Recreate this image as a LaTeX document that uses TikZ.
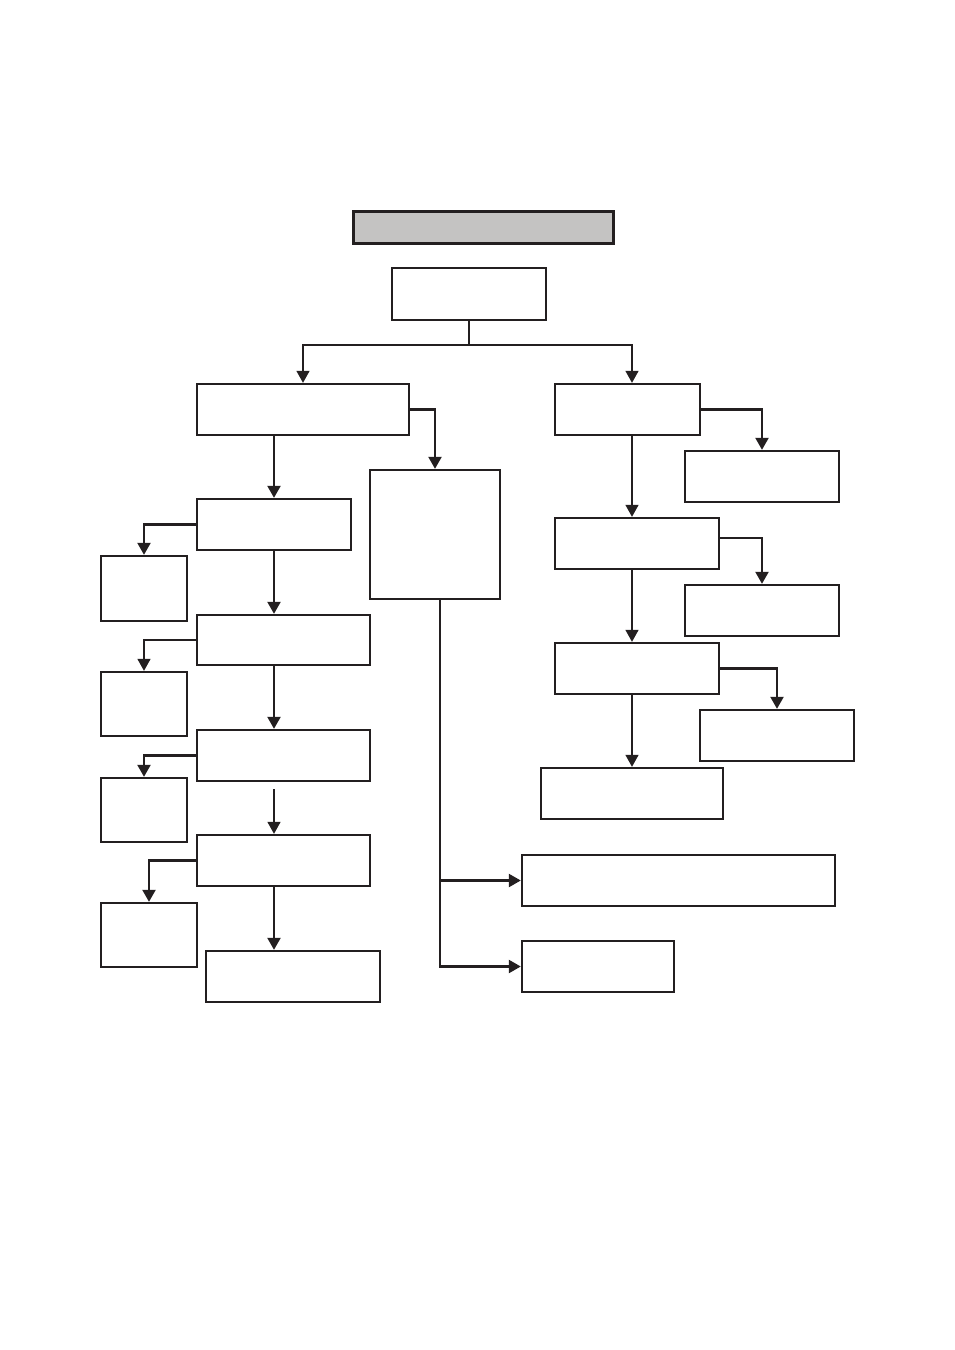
\documentclass[tikz,border=0pt]{standalone}
\usetikzlibrary{arrows.meta}
\definecolor{ink}{HTML}{231F20}
\definecolor{titlegray}{HTML}{C4C3C2}
\begin{document}
\begin{tikzpicture}[x=1pt,y=-1pt,
  box/.style={draw=ink,line width=2.4pt,inner sep=0pt,rectangle},
  conn/.style={draw=ink,line width=2.3pt},
  thin/.style={draw=ink,line width=1.5pt},
  arr/.style={-{Triangle[length=12pt,width=13pt]}}]
\useasboundingbox (0,0) rectangle (954,1350);
\fill[white] (0,0) rectangle (954,1350);
\node[box,fill=titlegray,line width=3pt,minimum width=260pt,minimum height=32pt] (title) at (483,227) {};
\node[box,minimum width=154pt,minimum height=52pt] (top) at (469,294) {};
\node[box,minimum width=212pt,minimum height=51pt] (L1) at (303,409.5) {};
\node[box,minimum width=145pt,minimum height=51pt] (R1) at (627.5,409.5) {};
\node[box,minimum width=130pt,minimum height=129pt] (Mid) at (435,534.5) {};
\node[box,minimum width=154pt,minimum height=51pt] (L2) at (274,524.5) {};
\node[box,minimum width=86pt,minimum height=65pt] (L2s) at (144,588.5) {};
\node[box,minimum width=173pt,minimum height=50pt] (L3) at (283.5,640) {};
\node[box,minimum width=86pt,minimum height=64pt] (L3s) at (144,704) {};
\node[box,minimum width=173pt,minimum height=51pt] (L4) at (283.5,755.5) {};
\node[box,minimum width=86pt,minimum height=64pt] (L4s) at (144,810) {};
\node[box,minimum width=173pt,minimum height=51pt] (L5) at (283.5,860.5) {};
\node[box,minimum width=96pt,minimum height=64pt] (L5s) at (149,935) {};
\node[box,minimum width=174pt,minimum height=51pt] (L6) at (293,976.5) {};
\node[box,minimum width=154pt,minimum height=51pt] (R1s) at (762,476.5) {};
\node[box,minimum width=164pt,minimum height=51pt] (R2) at (637,543.5) {};
\node[box,minimum width=154pt,minimum height=51pt] (R2s) at (762,610.5) {};
\node[box,minimum width=164pt,minimum height=51pt] (R3) at (637,668.5) {};
\node[box,minimum width=154pt,minimum height=51pt] (R3s) at (777,735.5) {};
\node[box,minimum width=182pt,minimum height=51pt] (R4) at (632,793.5) {};
\node[box,minimum width=313pt,minimum height=51pt] (B1) at (678.5,880.5) {};
\node[box,minimum width=152pt,minimum height=51pt] (B2) at (598,966.5) {};
% connectors
\coordinate (j1) at (469,345);
\coordinate (rx) at (632,0);
\draw[thin] (top.south) -- (j1);
\draw[thin,arr] (j1) -| (L1.north);
\draw[thin,arr] (j1) -| (R1.north -| rx);
\draw[conn,arr] (L1.east) -| (Mid.north);
\draw[conn,arr] (L1.south -| L2.north) -- (L2.north);
\draw[conn,arr] (L2.west) -| (L2s.north);
\draw[conn,arr] (L2.south) -- (L2.south |- L3.north);
\draw[thin,arr] (L3.west) -| (L3s.north);
\draw[conn,arr] (L3.south -| L2.south) -- (L4.north -| L2.south);
\draw[conn,arr] (L4.west) -| (L4s.north);
\draw[thin,arr] ([yshift=-7pt]L4.south -| L2.south) -- (L5.north -| L2.south);
\draw[conn,arr] (L5.west) -| (L5s.north);
\draw[conn,arr] (L5.south -| L2.south) -- (L6.north -| L2.south);
\coordinate (mb) at ([xshift=5pt]Mid.south);
\draw[conn,arr] (mb) |- (B2.west);
\draw[conn,arr] (mb |- B1.west) -- (B1.west);
\draw[conn,arr] (R1.east) -| (R1s.north);
\draw[thin,arr] (R1.south -| rx) -- (R2.north -| rx);
\draw[conn,arr] ([yshift=5.5pt]R2.east) -| (R2s.north);
\draw[thin,arr] (R2.south -| rx) -- (R3.north -| rx);
\draw[conn,arr] (R3.east) -| (R3s.north);
\draw[thin,arr] (R3.south -| rx) -- (R4.north);
\end{tikzpicture}
\end{document}
